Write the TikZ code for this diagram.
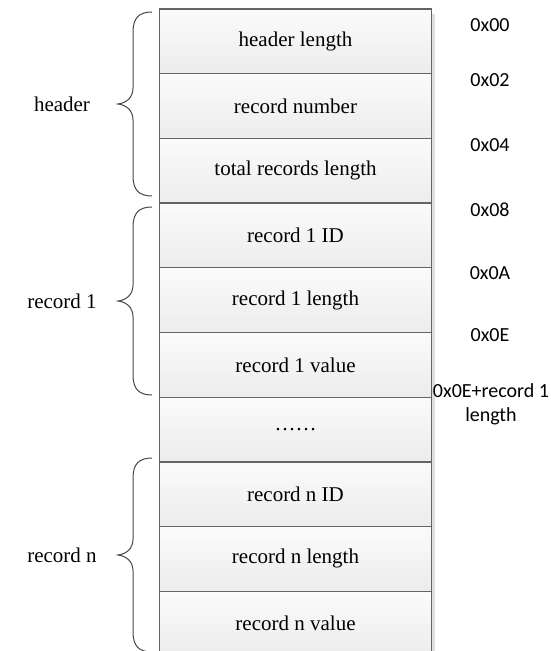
\documentclass[tikz,border=0pt]{standalone}
\usepackage{fontspec}
\setmainfont{Liberation Serif}
\newfontfamily\hexfont{Carlito}
\usepackage{xcolor}
\usepackage{tikz}
\usetikzlibrary{positioning,calc}
\definecolor{cellline}{RGB}{100,100,100}
\definecolor{celltop}{RGB}{251,251,251}
\definecolor{cellshade}{RGB}{236,236,236}
\definecolor{cellshadow}{RGB}{222,222,222}
\definecolor{bracegray}{RGB}{70,70,70}

\begin{document}
\begin{tikzpicture}[
  x=0.5pt, y=-0.5pt,
  cell/.style={draw=cellline, top color=celltop, bottom color=cellshade, minimum width=136pt, minimum height=32.35pt, inner sep=0pt, line width=0.6pt},
  addr/.style={font=\hexfont\fontsize{10}{12}\selectfont, align=center, inner sep=0pt},
  grouplabel/.style={font=\fontsize{10.5}{12}\selectfont, inner sep=0pt},
  every node/.style={font=\fontsize{10.5}{12}\selectfont}
]
  \useasboundingbox (0,0) rectangle (550,651);
  % shadow on the right
  \fill[cellshadow] (431,14) rectangle (435,656);
  % memory cells
  \foreach \val/\i in {header length/0, record number/1, total records length/2,
                       record 1 ID/3, record 1 length/4, record 1 value/5, \dots\dots/6,
                       record n ID/7, record n length/8, record n value/9} {
    \node[cell] (c\i) at (295.5, 41.35+64.7*\i) {\val};
  }
  % offsets
  \node[addr] (a0) at (490,25) {0x00};
  \node[addr] (a1) at (490,80) {0x02};
  \node[addr] (a2) at (490,145) {0x04};
  \node[addr] (a3) at (490,210) {0x08};
  \node[addr] (a4) at (490,273) {0x0A};
  \node[addr] (a5) at (490,335) {0x0E};
  \node[addr] (a6) at (491,404) {0x0E+record 1\\length};
  % braces
  \foreach \t/\b/\name/\txt in {12/196/hdr/header, 207/395/rec1/record 1, 458/652/recn/record n} {
    \pgfmathsetmacro\m{(\t+\b)/2}
    \draw[bracegray, line width=0.5pt]
      (152,\t) .. controls (139,\t) and (133,\t+6) .. (133,\t+20)
      -- (133,\m-16) .. controls (133,\m-6) and (126,\m-1) .. (118,\m)
      .. controls (126,\m+1) and (133,\m+6) .. (133,\m+16)
      -- (133,\b-20) .. controls (133,\b-6) and (139,\b) .. (152,\b);
    \node[grouplabel] (\name) at (62,\m) {\txt};
  }
\end{tikzpicture}
\end{document}
